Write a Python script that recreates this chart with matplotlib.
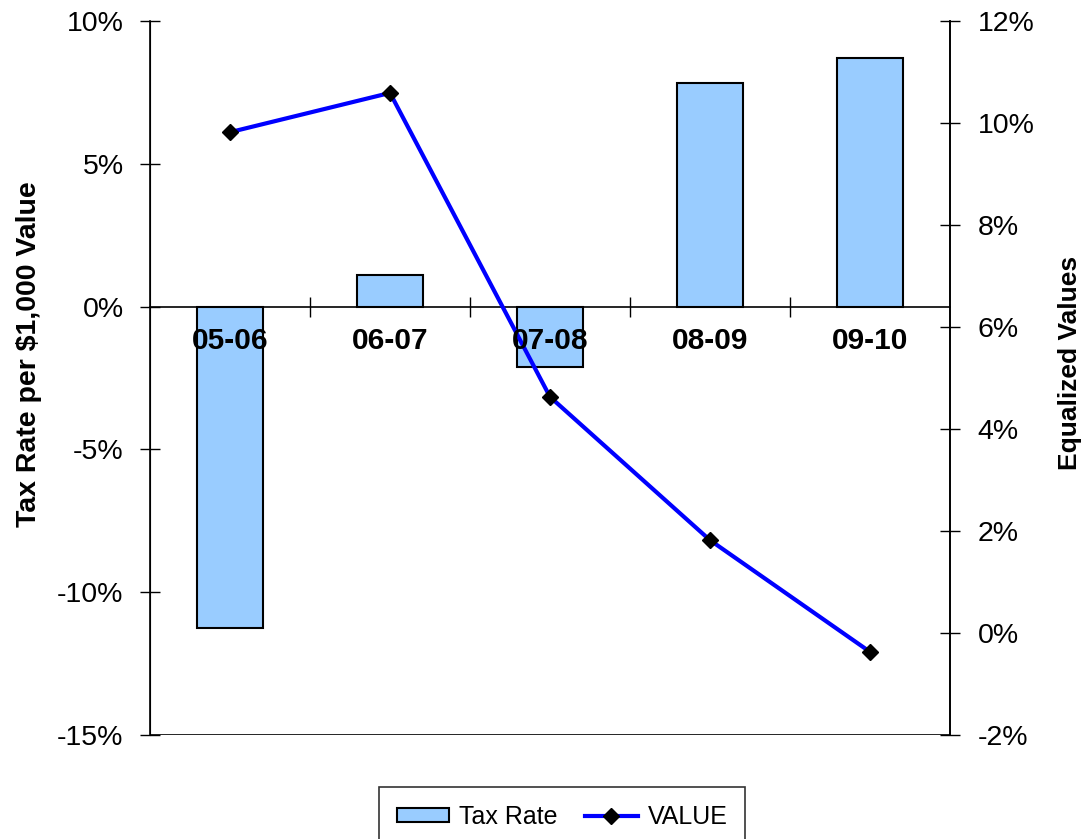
import numpy as np
import matplotlib.pyplot as plt
from matplotlib.patches import Patch
from matplotlib.lines import Line2D
from matplotlib.ticker import FuncFormatter

plt.rcParams['font.family'] = ['Liberation Sans', 'DejaVu Sans']

# fiscal years and yearly changes (percent)
years = ['05-06', '06-07', '07-08', '08-09', '09-10']
tax_rate = [-11.24, 1.09, -2.10, 7.84, 8.72]
equalized = [9.82, 10.59, 4.63, 1.82, -0.37]

x = np.arange(len(years))
pct = FuncFormatter(lambda v, _: f'{v:.0f}%')

fig = plt.figure(figsize=(10.87, 8.39), dpi=100)
ax = fig.add_axes([150 / 1087, 104 / 839, 800 / 1087, 714 / 839])

ax.bar(x, tax_rate, width=0.41, color='#99ccff', edgecolor='black', linewidth=1.5, zorder=2)
ax.set_xlim(-0.5, len(years) - 0.5)
ax.set_ylim(-15, 10)
ax.set_yticks(np.arange(-15, 11, 5))
ax.yaxis.set_major_formatter(pct)
ax.tick_params(axis='y', direction='inout', length=14, width=1, labelsize=20.5, pad=12)

# category axis crosses at zero, frame line kept at the bottom
ax.spines['bottom'].set_position(('data', 0))
ax.spines['top'].set_visible(False)
ax.axhline(ax.get_ylim()[0], color='black', linewidth=1.2, zorder=3)
ax.set_xticks(x[:-1] + 0.5)
ax.set_xticklabels([])
ax.tick_params(axis='x', direction='inout', length=14, width=1)
for spine in ax.spines.values():
    spine.set_linewidth(1.2)

ax.set_ylabel('Tax Rate per $1,000 Value', fontsize=20.5, fontweight='bold')
ax.yaxis.set_label_coords(-0.135, 0.534)

ax2 = ax.twinx()
ax2.plot(x, equalized, color='#0000ff', linewidth=3, marker='D', markersize=8.5,
         markerfacecolor='black', markeredgecolor='black', zorder=4)
ax2.set_ylim(-2, 12)
ax2.set_yticks(np.arange(-2, 13, 2))
ax2.yaxis.set_major_formatter(pct)
ax2.tick_params(axis='y', direction='inout', length=14, width=1, labelsize=20.5, pad=13)
ax2.spines['top'].set_visible(False)
ax2.spines['bottom'].set_visible(False)
ax2.spines['right'].set_linewidth(1.2)
ax2.set_ylabel('Equalized Values', fontsize=19, fontweight='bold')
ax2.yaxis.set_label_coords(1.135, 0.521)

# category labels sit just under the zero line
for xi, name in zip(x, years):
    ax2.annotate(name, xy=(xi, 0), xycoords=ax.transData, xytext=(0, -25),
                 textcoords='offset points', ha='center', va='center',
                 fontsize=21.5, fontweight='bold', zorder=6)

handles = [Patch(facecolor='#99ccff', edgecolor='black', linewidth=1.5),
           Line2D([0], [0], color='#0000ff', linewidth=3, marker='D', markersize=8.5,
                  markerfacecolor='black', markeredgecolor='black')]
leg = fig.legend(handles, ['Tax Rate', 'VALUE'], loc='upper center',
                 bbox_to_anchor=(562 / 1087, 1 - 787 / 839), ncol=2, fontsize=18,
                 frameon=True, fancybox=False, edgecolor='black', handlelength=2.1,
                 handleheight=0.5, columnspacing=1.1, borderpad=0.7, handletextpad=0.4,
                 borderaxespad=0)
leg.get_frame().set_linewidth(1.2)

fig.savefig('out.png', dpi=100)
